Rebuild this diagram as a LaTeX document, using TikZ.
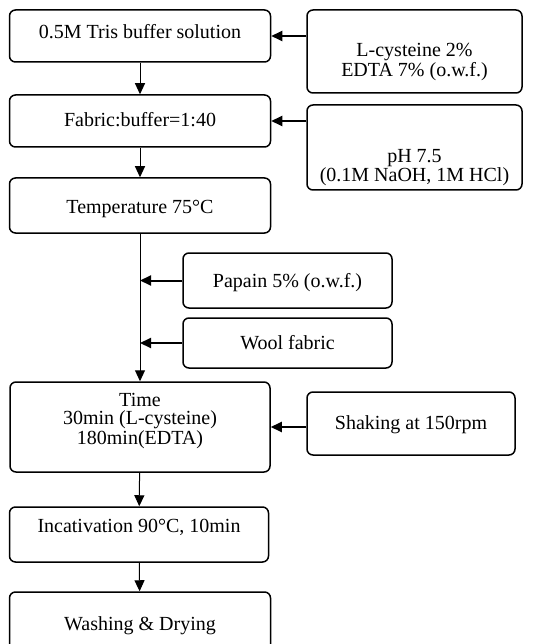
\documentclass[tikz,border=0pt]{standalone}
\usepackage{fontspec}
\setmainfont{Liberation Serif}
\usetikzlibrary{arrows.meta}
\begin{document}
\begin{tikzpicture}[x=1pt,y=-1pt,
  box/.style={draw, line width=1.5pt, rounded corners=6pt, inner sep=0pt},
  txt/.style={inner sep=0pt, align=center, text height=0.7em, text depth=0.2em, font=\fontsize{20}{17}\selectfont},
  mtxt/.style={inner sep=0pt, align=center, font=\fontsize{20}{18}\selectfont},
  arr/.style={-{Triangle[width=10pt,length=11pt]}, line width=1pt},
  harr/.style={-{Triangle[width=10pt,length=11pt]}, line width=2pt}]
\useasboundingbox (0,0) rectangle (537,644);
\clip (0,0) rectangle (537,644);
% main column
\node[box, minimum width=261pt, minimum height=52pt] (A) at (140,36) {};
\node[txt] (At) at (140,36) {0.5M Tris buffer solution};
\node[box, minimum width=261pt, minimum height=52pt] (B) at (140,121) {};
\node[txt] (Bt) at (140,124) {Fabric:buffer=1:40};
\node[box, minimum width=261pt, minimum height=55pt] (C) at (140,205.5) {};
\node[txt] (Ct) at (140,211) {Temperature 75°C};
\node[box, minimum width=260pt, minimum height=90pt] (D) at (140,427) {};
\node[mtxt] (Dt) at (140,421) {Time\\30min (L-cysteine)\\180min(EDTA)};
\node[box, minimum width=259pt, minimum height=55pt] (E) at (139,534.5) {};
\node[txt] (Et) at (139,530) {Incativation 90°C, 10min};
\node[box, minimum width=261pt, minimum height=70pt] (F) at (140,627) {};
\node[txt] (Ft) at (140,628) {Washing \& Drying};
% side boxes
\node[box, minimum width=215pt, minimum height=83pt] (R1) at (414.5,51.5) {};
\node[mtxt] (R1t) at (414.5,62) {L-cysteine 2\%\\EDTA 7\% (o.w.f.)};
\node[box, minimum width=215pt, minimum height=85pt] (R2) at (414.5,147.5) {};
\node[mtxt] (R2t) at (414.5,168) {pH 7.5\\(0.1M NaOH, 1M HCl)};
\node[box, minimum width=209pt, minimum height=55pt] (P) at (287.5,280.5) {};
\node[txt] (Pt) at (287.5,285) {Papain 5\% (o.w.f.)};
\node[box, minimum width=209pt, minimum height=50pt] (W) at (287.5,343) {};
\node[txt] (Wt) at (287.5,347) {Wool fabric};
\node[box, minimum width=208pt, minimum height=63pt] (S) at (411,423.5) {};
\node[txt] (St) at (411,427) {Shaking at 150rpm};
% connectors
\draw[arr] (A) -- (B);
\draw[arr] (B) -- (C);
\draw[arr] (C) -- (D);
\draw[arr] (D) -- (E);
\draw[arr] (E) -- (F);
\draw[harr] (A.east -| R1.west) -- (A.east);
\draw[harr] (B.east -| R2.west) -- (B.east);
\draw[harr] (P.west) -- (P.west -| C.south);
\draw[harr] (W.west) -- (W.west -| C.south);
\draw[harr] (D.east -| S.west) -- (D.east);
\end{tikzpicture}
\end{document}
